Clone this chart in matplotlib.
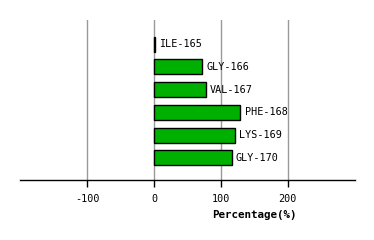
import matplotlib
matplotlib.use('Agg')
import matplotlib.pyplot as plt
from matplotlib.transforms import offset_copy

# residues and contact percentages, top to bottom
residues = ['ILE-165', 'GLY-166', 'VAL-167', 'PHE-168', 'LYS-169', 'GLY-170']
percent = [1, 72, 77, 129, 121, 116]
xticks = [-100, 0, 100, 200]

fig = plt.figure(figsize=(3.74, 2.4), dpi=100)
ax = fig.add_axes([20 / 374, 1 - 180 / 240, 335 / 374, 160 / 240])

pos = list(range(len(residues)))
ax.barh(pos, percent, height=0.66, color='#00b000', edgecolor='black', linewidth=1, zorder=3)

lab_tr = offset_copy(ax.transData, fig=fig, x=3.2, y=0, units='points')
for p, v, name in zip(pos, percent, residues):
    ax.text(v, p, name, transform=lab_tr, ha='left', va='center',
            family='DejaVu Sans Mono', fontsize=7.3, zorder=4)

ax.set_xlim(-201, 301)
ax.set_ylim(5.97, -1.06)
ax.set_xticks(xticks)
ax.set_xticklabels([str(t) for t in xticks], family='DejaVu Sans Mono', fontsize=7.3)
ax.set_yticks([])
ax.tick_params(axis='x', length=5, width=1, pad=5, color='black')
for t in xticks:
    ax.axvline(t, color='#999999', linewidth=1, zorder=1)

for s in ['top', 'right', 'left']:
    ax.spines[s].set_visible(False)
ax.spines['bottom'].set_linewidth(1)

fig.text(254 / 374, 1 - 215 / 240, 'Percentage(%)', ha='center', va='center',
         family='DejaVu Sans Mono', fontsize=7.8, fontweight='bold')

fig.savefig('out.png', dpi=100)
